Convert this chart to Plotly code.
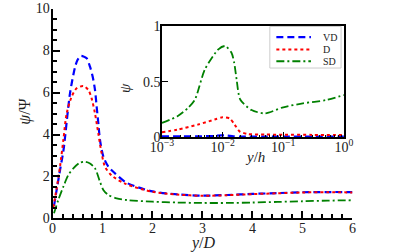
import plotly.graph_objects as go

# ---------------- main panel data ----------------
vd_x = [0.03, 0.083, 0.15, 0.22, 0.35, 0.45, 0.5, 0.56, 0.62, 0.683, 0.75, 0.803, 0.85, 0.883, 0.917, 0.95,
        1.017, 1.117, 1.25, 1.483, 2.0, 2.5, 3.0, 3.5, 4.0, 4.5, 5.0, 5.5, 6.0]
vd_y = [0.6, 1.36, 2.3, 3.26, 5.96, 7.2, 7.55, 7.74, 7.72, 7.63, 7.23, 6.76, 6.13, 5.33, 4.53, 3.74,
        2.95, 2.47, 2.15, 1.7, 1.29, 1.15, 1.09, 1.12, 1.17, 1.21, 1.25, 1.26, 1.26]

d_x = [0.017, 0.08, 0.15, 0.217, 0.283, 0.383, 0.483, 0.617, 0.717, 0.783, 0.85, 0.917, 0.983, 1.05,
       1.183, 1.45, 2.0, 2.5, 3.0, 3.5, 4.0, 4.5, 5.0, 5.5, 6.0]
d_y = [0.53, 1.4, 2.47, 3.74, 5.0, 5.8, 6.2, 6.31, 6.12, 5.72, 5.0, 4.05, 3.1, 2.47,
       2.05, 1.66, 1.27, 1.14, 1.08, 1.11, 1.16, 1.2, 1.24, 1.25, 1.24]

sd_x = [0.03, 0.117, 0.217, 0.317, 0.417, 0.55, 0.65, 0.75, 0.85, 0.95, 1.017, 1.117, 1.283, 1.483,
        2.0, 2.5, 3.0, 3.5, 4.0, 4.5, 5.0, 5.5, 6.0]
sd_y = [0.25, 0.89, 1.52, 2.07, 2.39, 2.66, 2.7, 2.62, 2.39, 1.75, 1.36, 1.12, 0.96, 0.88,
        0.8, 0.76, 0.74, 0.74, 0.76, 0.79, 0.82, 0.85, 0.87]

# ---------------- inset data ----------------
in_vd_x = [0.001, 0.002, 0.004, 0.007, 0.0095, 0.0115, 0.015, 0.02, 0.05, 0.1, 0.3, 1.0]
in_vd_y = [0.008, 0.008, 0.009, 0.012, 0.018, 0.017, 0.01, 0.007, 0.006, 0.006, 0.006, 0.006]

in_d_x = [0.001, 0.0018, 0.0039, 0.0074, 0.01, 0.0132, 0.0158, 0.019, 0.026, 0.05, 0.1, 0.3, 1.0]
in_d_y = [0.045, 0.069, 0.114, 0.16, 0.18, 0.168, 0.114, 0.054, 0.03, 0.025, 0.024, 0.022, 0.02]

in_sd_x = [0.001, 0.0018, 0.0027, 0.0035, 0.0051, 0.0085, 0.011, 0.014, 0.0155, 0.017, 0.0195, 0.03,
           0.05, 0.1, 0.21, 0.51, 1.0]
in_sd_y = [0.13, 0.19, 0.265, 0.34, 0.61, 0.79, 0.82, 0.76, 0.67, 0.52, 0.34, 0.245,
           0.215, 0.27, 0.305, 0.335, 0.38]

names = ["VD", "D", "SD"]
colors = ["#0000ff", "#ff0000", "#008000"]

main_xticks = [0, 1, 2, 3, 4, 5, 6]
main_yticks = [0, 2, 4, 6, 8, 10]
inset_xticks = [0.001, 0.01, 0.1, 1]
inset_xticktext = ["10<sup>−3</sup>", "10<sup>−2</sup>", "10<sup>−1</sup>", "10<sup>0</sup>"]
inset_minor = [2e-3, 3e-3, 4e-3, 5e-3, 6e-3, 7e-3, 8e-3, 9e-3,
               2e-2, 3e-2, 4e-2, 5e-2, 6e-2, 7e-2, 8e-2, 9e-2,
               0.2, 0.3, 0.4, 0.5, 0.6, 0.7, 0.8, 0.9]
inset_yticks = [0, 0.5, 1]
inset_yticktext = ["0", "0.5", "1"]

FONT = "Liberation Serif"
TXT = "#222"

fig = go.Figure()
styles = [dict(dash="7px,4px", width=2.2), dict(dash="dot", width=2.0), dict(dash="8px,3px,2px,3px", width=1.8)]

for xs, ys, nm, c, st in zip([vd_x, d_x, sd_x], [vd_y, d_y, sd_y], names, colors, styles):
    fig.add_trace(go.Scatter(x=xs, y=ys, mode="lines", name=nm, showlegend=False,
                             line=dict(color=c, shape="spline", smoothing=0.8, **st),
                             xaxis="x", yaxis="y"))

for xs, ys, nm, c, st in zip([in_vd_x, in_d_x, in_sd_x], [in_vd_y, in_d_y, in_sd_y], names, colors, styles):
    fig.add_trace(go.Scatter(x=xs, y=ys, mode="lines", name=nm, showlegend=False,
                             line=dict(color=c, shape="spline", smoothing=0.7, **st),
                             xaxis="x2", yaxis="y2"))

axis_common = dict(showgrid=False, zeroline=False, showline=True, linecolor="black",
                   ticks="inside", tickcolor="black", automargin=False)

# ---- compact legend box (inside the inset, top right) ----
leg_x0, leg_x1, leg_y0, leg_y1 = 0.663, 0.838, 0.730, 0.895
leg_rows = [0.853, 0.804, 0.757]
shapes = [dict(type="rect", xref="paper", yref="paper", x0=leg_x0, x1=leg_x1, y0=leg_y0, y1=leg_y1,
               line=dict(color="#cccccc", width=1), fillcolor="white", layer="above")]
annotations = []
for nm, c, st, ry in zip(names, colors, styles, leg_rows):
    shapes.append(dict(type="line", xref="paper", yref="paper", x0=0.679, x1=0.764, y0=ry, y1=ry,
                       line=dict(color=c, width=st["width"], dash=st["dash"]), layer="above"))
    annotations.append(dict(text=nm, x=0.789, y=ry, xref="paper", yref="paper", showarrow=False,
                            xanchor="left", yanchor="middle", font=dict(family=FONT, size=10, color=TXT)))

annotations += [
    dict(text="<i>ψ</i>/Ψ", x=0.061, y=0.556, xref="paper", yref="paper", showarrow=False,
         xanchor="center", yanchor="middle",
         textangle=-90, font=dict(family=FONT, size=16, color=TXT)),
    dict(text="<i>y</i>/<i>D</i>", x=0.499, y=0.036, xref="paper", yref="paper", showarrow=False,
         xanchor="center", yanchor="middle", font=dict(family=FONT, size=16, color=TXT)),
    dict(text="<i>ψ</i>", x=0.307, y=0.651, xref="paper", yref="paper", showarrow=False,
         xanchor="center", yanchor="middle",
         textangle=-90, font=dict(family=FONT, size=15, color=TXT)),
    dict(text="<i>y</i>/<i>h</i>", x=0.627, y=0.377, xref="paper", yref="paper", showarrow=False,
         xanchor="center", yanchor="middle", font=dict(family=FONT, size=15, color=TXT)),
]

fig.update_layout(
    width=407, height=252,
    margin=dict(l=0, r=0, t=0, b=0),
    paper_bgcolor="white", plot_bgcolor="white",
    showlegend=False,
    xaxis=dict(domain=[0.129, 0.866], range=[0, 6], tickvals=main_xticks, linewidth=2,
               ticklen=7, tickwidth=1.5, ticklabelstandoff=-4,
               tickfont=dict(family=FONT, size=14, color=TXT),
               minor=dict(ticks="inside", dtick=0.2, ticklen=4, tickcolor="black"),
               anchor="y", **axis_common),
    yaxis=dict(domain=[0.133, 0.966], range=[0, 10], tickvals=main_yticks, linewidth=2,
               ticklen=7, tickwidth=1.5, ticklabelstandoff=-2,
               tickfont=dict(family=FONT, size=14, color=TXT),
               minor=dict(ticks="inside", dtick=0.5, ticklen=4, tickcolor="black"),
               anchor="x", **axis_common),
    xaxis2=dict(domain=[0.398, 0.845], type="log", range=[-3, 0], tickvals=inset_xticks,
                ticktext=inset_xticktext, linewidth=1.5, mirror=True, ticklen=6, tickwidth=1.2,
                ticklabelstandoff=-4, tickfont=dict(family=FONT, size=14, color=TXT),
                minor=dict(ticks="inside", tickvals=inset_minor, ticklen=3, tickcolor="black"),
                anchor="y2", **axis_common),
    yaxis2=dict(domain=[0.455, 0.897], range=[0, 1], tickvals=inset_yticks, ticktext=inset_yticktext,
                linewidth=1.5, mirror=True, ticklen=6, tickwidth=1.2, ticklabelstandoff=-3,
                tickfont=dict(family=FONT, size=14, color=TXT), anchor="x2", **axis_common),
    shapes=shapes,
    annotations=annotations,
)

fig.write_html("out.html", config={"displayModeBar": False},
               post_script="document.body.style.margin='0';document.body.style.overflow='hidden';")
